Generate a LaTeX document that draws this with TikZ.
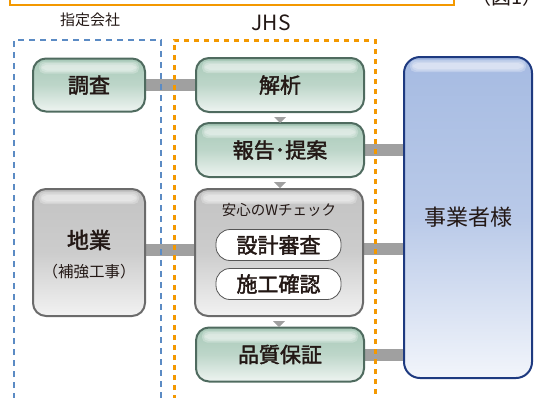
\documentclass[tikz,border=0pt]{standalone}
\usepackage{fontspec}
\setmainfont{Noto Sans CJK JP}
\newfontfamily\heavy[FakeBold=2]{Noto Sans CJK JP}
\usepackage{tikz}
\usetikzlibrary{backgrounds,calc,positioning}

\definecolor{inkblack}{HTML}{231815}
\definecolor{jhsorange}{HTML}{F39800}
\definecolor{sideblue}{HTML}{5B8BC4}
\definecolor{barGray}{HTML}{A0A0A0}
\definecolor{greenEdge}{HTML}{4F6B5F}
\definecolor{greenTop}{HTML}{A8C9B8}
\definecolor{greenBot}{HTML}{EEF4F1}
\definecolor{grayEdge}{HTML}{6B6B6B}
\definecolor{grayTop}{HTML}{C3C3C3}
\definecolor{grayBot}{HTML}{F2F2F2}
\definecolor{blueEdge}{HTML}{1E3A80}
\definecolor{blueTop}{HTML}{A6BBE2}
\definecolor{blueBot}{HTML}{F2F5FB}

\begin{document}
\begin{tikzpicture}[x=1pt,y=-1pt,
			gloss/.style = {path picture={
					\foreach \g in {0,1.5,3}
					\fill[white,opacity=.25,rounded corners=5pt]
					([xshift=6pt+\g pt,yshift=-3pt-\g pt]path picture bounding box.north west) rectangle
					([xshift=-6pt-\g pt,yshift=-15pt+\g pt]path picture bounding box.north east);}},
			stepnode/.style = {draw=greenEdge, line width=2pt, rounded corners=13pt,
					top color=greenTop, bottom color=greenBot, middle color=greenTop!70!greenBot,
					gloss, inner sep=0pt, minimum width=168pt, minimum height=54pt,
					text=inkblack, font=\heavy\fontsize{21}{24}\selectfont},
			graynode/.style = {draw=grayEdge, line width=2pt, rounded corners=13pt,
					top color=grayTop, bottom color=grayBot, middle color=grayTop!80!grayBot,
					gloss, inner sep=0pt, text=inkblack},
			pill/.style = {draw=grayEdge!80!black, line width=0.8pt, fill=white, rounded corners=14pt,
					inner sep=0pt, minimum width=125pt, minimum height=31pt,
					text=inkblack, font=\heavy\fontsize{21}{24}\selectfont},
			clientnode/.style = {draw=blueEdge, line width=2pt, rounded corners=16pt,
					top color=blueTop, bottom color=blueBot, middle color=blueTop!75!blueBot,
					gloss, inner sep=0pt, minimum width=128pt, minimum height=321pt,
					text=inkblack, font=\fontsize{22}{24}\selectfont},
			bar/.style = {barGray, line width=12pt},
			tri/.style = {fill=barGray},
			label/.style = {text=inkblack, inner sep=0pt}
		]
		\useasboundingbox (0,0) rectangle (534,397);

		% headings
		\draw[jhsorange, line width=2pt] (10,-20) rectangle (454,5);
		\node[label, font=\fontsize{20}{22}\selectfont] (fig) at (507,-3) {（図1）};
		\node[label, font=\fontsize{15}{17}\selectfont] (shitei) at (90,20) {指定会社};
		\node[label, font=\fontsize{21}{23}\selectfont] (jhs) at (271,23) {JHS};

		% dashed frames
		\draw[sideblue, line width=2.5pt, dash pattern=on 6pt off 5pt] (14,410) -- (14,40) -- (161,40) -- (161,410);
		\draw[jhsorange, line width=3pt, dash pattern=on 5pt off 5pt] (174,410) -- (174,40) -- (375,40) -- (375,410);

		% nodes
		\node [stepnode, minimum width=112pt, minimum height=53pt] (chosa) at (89,85) {調査};
		\node [stepnode] (kaiseki) at (280,85) {解析};
		\node [stepnode] (hokoku) at (280,150) {報告･提案};
		\node [graynode, minimum width=168pt, minimum height=127pt] (wcheck) at (279,252.5) {};
		\node [label, font=\fontsize{14.5}{16}\selectfont] (wtitle) at (279,210) {安心のWチェック};
		\node [pill] (sekkei) at (278.5,245) {設計審査};
		\node [pill] (seko) at (278.5,284) {施工確認};
		\node [stepnode] (hinshitsu) at (280,354.5) {品質保証};
		\node [graynode, minimum width=112pt, minimum height=127pt] (jigyo) at (89,252.5) {};
		\node [label, font=\heavy\fontsize{22}{24}\selectfont] (jigyotxt) at (89,240) {地業};
		\node [label, font=\fontsize{15.5}{17}\selectfont] (hokyo) at (89,272) {（補強工事）};
		\node [clientnode] (client) at (468,217.5) {事業者様};

		% connectors
		\begin{scope}[on background layer]
			\draw[bar] (chosa.east) -- (kaiseki.west);
			\draw[bar] (hokoku.east) -- (hokoku.east -| client.west);
			\draw[bar] ([yshift=3pt]jigyo.east) -- ([yshift=3pt]jigyo.east -| wcheck.west);
			\draw[bar] ([yshift=4pt]wcheck.east) -- ([yshift=4pt]wcheck.east -| client.west);
			\draw[bar] (hinshitsu.east) -- (hinshitsu.east -| client.west);
		\end{scope}
		\foreach \a in {kaiseki,hokoku,wcheck}
		\fill[tri] ([xshift=-6pt,yshift=-4pt]\a.south) -- ++(12pt,0) -- ++(-6pt,-6pt) -- cycle;
	\end{tikzpicture}
\end{document}
